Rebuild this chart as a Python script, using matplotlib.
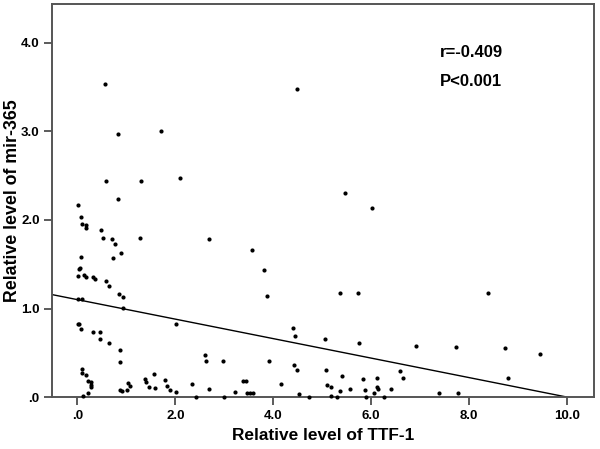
import numpy as np
import matplotlib.pyplot as plt

plt.rcParams['font.family'] = ['Liberation Sans', 'DejaVu Sans']
plt.rcParams['font.weight'] = 'bold'

# relative level of TTF-1
ttf1 = [0.57, 4.48, 0.82, 1.71, 0.58, 1.29, 2.10, 0.82, 5.46, 6.02,
        0.02, 0.08, 0.09, 0.18, 0.18, 0.48, 0.52, 0.71, 0.77, 1.27,
        0.89, 0.08, 0.72, 0.06, 0.035, 0.02, 0.14, 0.17, 0.32, 0.36,
        0.59, 0.65, 0.84, 0.93, 0.01, 0.09, 0.93,
        2.69, 3.56, 3.81, 3.88, 5.37, 5.74, 8.39,
        2.02, 0.01, 0.035, 0.07, 0.31, 0.46, 0.46, 0.64, 0.86, 0.87,
        0.09, 0.09, 0.18, 0.22, 0.27, 0.28, 0.28, 0.21, 0.12,
        0.86, 0.92, 1.02, 1.04, 1.08, 1.38, 1.40, 1.47, 1.56, 1.58,
        1.79, 1.83, 1.89, 2.02,
        2.34, 2.42, 2.60, 2.62, 2.68, 2.98, 3.00, 3.22, 3.38, 3.44,
        3.47, 3.53, 3.58,
        4.40, 4.44, 3.91, 4.42, 4.49, 4.16, 4.53, 4.73,
        5.06, 5.75, 6.93, 5.08, 5.41, 5.84, 6.12, 6.59, 6.66, 5.10,
        5.19, 5.37, 5.58, 5.88, 6.13, 6.14, 6.06, 6.42, 6.27, 5.90,
        5.18, 5.30, 7.40,
        7.74, 8.75, 9.45, 8.80, 7.77]
# relative level of mir-365
mir365 = [3.54, 3.48, 2.97, 3.01, 2.44, 2.44, 2.47, 2.24, 2.31, 2.13,
          2.17, 2.03, 1.96, 1.94, 1.91, 1.89, 1.80, 1.78, 1.73, 1.80,
          1.63, 1.585, 1.57, 1.46, 1.45, 1.37, 1.375, 1.36, 1.356, 1.33,
          1.31, 1.25, 1.16, 1.13, 1.11, 1.11, 1.01,
          1.79, 1.66, 1.43, 1.14, 1.18, 1.18, 1.18,
          0.83, 0.83, 0.82, 0.77, 0.74, 0.73, 0.66, 0.61, 0.53, 0.39,
          0.32, 0.27, 0.25, 0.18, 0.17, 0.14, 0.11, 0.045, 0.01,
          0.08, 0.07, 0.075, 0.16, 0.12, 0.20, 0.17, 0.11, 0.26, 0.10,
          0.19, 0.12, 0.075, 0.056,
          0.15, 0.0, 0.47, 0.41, 0.09, 0.41, 0.0, 0.056, 0.18, 0.18,
          0.05, 0.05, 0.05,
          0.78, 0.69, 0.41, 0.365, 0.31, 0.147, 0.034, 0.0,
          0.65, 0.61, 0.576, 0.31, 0.24, 0.20, 0.21, 0.29, 0.22, 0.14,
          0.11, 0.064, 0.09, 0.08, 0.116, 0.087, 0.045, 0.09, 0.003, 0.0,
          0.01, 0.0, 0.05,
          0.57, 0.55, 0.49, 0.22, 0.04]

# fitted line
intercept = 1.10
slope = -0.110
r_text = 'r=-0.409'
p_text = 'P<0.001'

fig = plt.figure(figsize=(6, 4.49), dpi=100)
ax = fig.add_axes([0.0867, 0.1158, 0.9033, 0.8752])

ax.scatter(ttf1, mir365, s=9, c='black', linewidths=0, clip_on=False, zorder=3)

xmin, xmax = -0.52, 10.56
xl = np.array([xmin, -intercept / slope])
ax.plot(xl, intercept + slope * xl, color='black', lw=1.0)

ax.set_xlim(xmin, xmax)
ax.set_ylim(0, 4.44)

xt = [0, 2, 4, 6, 8, 10]
yt = [0, 1, 2, 3, 4]
ax.set_xticks(xt)
ax.set_xticklabels(['.0' if v == 0 else f'{v:.1f}' for v in xt])
ax.set_yticks(yt)
ax.set_yticklabels(['.0' if v == 0 else f'{v:.1f}' for v in yt])
ax.tick_params(direction='out', length=6, width=1.2, color='#404040',
               labelsize=9.5, pad=3)
for lab in ax.get_xticklabels() + ax.get_yticklabels():
    lab.set_fontweight('bold')
for sp in ax.spines.values():
    sp.set_color('#555555')
    sp.set_linewidth(1.4)

ax.set_xlabel('Relative level of TTF-1', fontsize=12.4, fontweight='bold', labelpad=5)
ax.set_ylabel('Relative level of mir-365', fontsize=12.8, fontweight='bold')
ax.yaxis.set_label_coords(-0.058, 0.5)

ax.text(7.41, 3.89, r_text, fontsize=12, fontweight='bold', va='center')
ax.text(7.41, 3.56, p_text, fontsize=12, fontweight='bold', va='center')

fig.savefig('out.png', dpi=100)
